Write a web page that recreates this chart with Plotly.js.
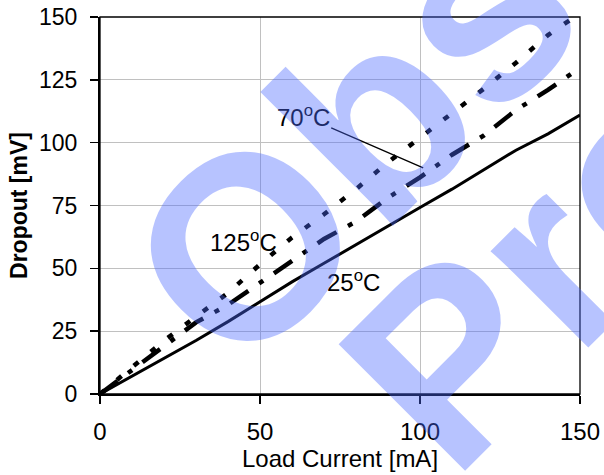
<!DOCTYPE html>
<html>
<head>
<meta charset="utf-8">
<script src="https://cdn.plot.ly/plotly-3.0.1.min.js"></script>
<style>
html,body{margin:0;padding:0;background:#fff;}
#chart{width:604px;height:475px;}
</style>
</head>
<body>
<div id="chart"></div>
<script>
// Load current [mA]
const loadCurrent = [0, 10, 20, 30, 40, 50, 60, 70, 80, 90, 100, 110, 120, 130, 140, 150];
// Dropout [mV] per temperature
const dropout25C  = [0, 7.0, 14.2, 21.3, 28.8, 36.8, 44.6, 52.0, 59.5, 67.0, 74.2, 81.5, 89.3, 97.0, 103.5, 111.0];
const dropout70C  = [0, 9.5, 19.0, 28.5, 35.5, 44.3, 52.7, 61.7, 68.6, 78.1, 86.2, 95.2, 102.9, 113.0, 121.0, 129.8];
const dropout125C = [0, 10.8, 21.2, 30.8, 40.2, 51.6, 62.3, 71.5, 81.5, 92.2, 101.8, 111.8, 121.5, 131.8, 142.8, 151.5];
const xTickVals = [0, 50, 100, 150];
const yTickVals = [0, 25, 50, 75, 100, 125, 150];
const seriesLabels = ['25<sup>o</sup>C', '70<sup>o</sup>C', '125<sup>o</sup>C'];
const watermarkLines = ['Obsolete', 'Product'];

const FONT = 'Liberation Sans, Arial, Helvetica, sans-serif';

const traces = [
  {x: loadCurrent, y: dropout25C, mode: 'lines', name: '25C',
   line: {color: '#000', width: 3}},
  {x: loadCurrent, y: dropout70C, mode: 'lines', name: '70C',
   line: {color: '#000', width: 4.5, dash: '22px,13px,5px,13px'}},
  {x: loadCurrent, y: dropout125C, mode: 'lines', name: '125C',
   line: {color: '#000', width: 4.5, dash: '6px,16px'}}
];

const wmColor = 'rgba(76,106,255,0.4)';

const layout = {
  width: 604, height: 475,
  margin: {l: 100, r: 24, t: 17, b: 81},
  paper_bgcolor: '#fff', plot_bgcolor: '#fff',
  showlegend: false,
  font: {family: FONT, color: '#000'},
  xaxis: {
    range: [0, 150], tickvals: xTickVals, ticks: 'outside', ticklen: 8, tickwidth: 1.5, tickcolor: '#000',
    showline: true, linewidth: 2, linecolor: '#000', showgrid: true, gridcolor: '#c0c0c0', gridwidth: 1,
    zeroline: false, tickfont: {size: 24, family: FONT}, ticklabelstandoff: 7,
    title: {text: 'Load Current [mA]', font: {size: 24, family: FONT}, standoff: 4}
  },
  yaxis: {
    range: [0, 150], tickvals: yTickVals, ticks: 'outside', ticklen: 8, tickwidth: 1.5, tickcolor: '#000',
    showline: true, linewidth: 2, linecolor: '#000', showgrid: true, gridcolor: '#c0c0c0', gridwidth: 1,
    zeroline: false, tickfont: {size: 23, family: FONT}, ticklabelstandoff: 8,
    title: {text: 'Dropout [mV]', font: {size: 23, family: FONT, weight: 'bold'}, standoff: 5}
  },
  xaxis2: {
    overlaying: 'x', anchor: 'y', side: 'bottom', range: [0, 150], dtick: 25, tick0: 0,
    ticks: 'inside', ticklen: 7, tickwidth: 1.5, tickcolor: '#000',
    showticklabels: false, showgrid: false, showline: false, zeroline: false
  },
  yaxis2: {
    overlaying: 'y', anchor: 'x', side: 'left', range: [0, 150], dtick: 12.5, tick0: 0,
    ticks: 'inside', ticklen: 7, tickwidth: 1.5, tickcolor: '#000',
    showticklabels: false, showgrid: false, showline: false, zeroline: false
  },
  shapes: [
    {type: 'rect', xref: 'paper', yref: 'paper', x0: 0, x1: 1, y0: 0, y1: 1,
     line: {color: '#000', width: 1.3}, layer: 'above'}
  ],
  annotations: [
    {xref: 'x', yref: 'y', x: 79.3, y: 45, text: seriesLabels[0], showarrow: false,
     font: {size: 24, family: FONT, color: '#000'}},
    {xref: 'x', yref: 'y', x: 101, y: 90, text: seriesLabels[1], showarrow: true,
     arrowhead: 0, arrowwidth: 1.3, arrowcolor: '#000', ax: -120, ay: -52,
     font: {size: 24, family: FONT, color: '#000'}},
    {xref: 'x', yref: 'y', x: 44.9, y: 60.9, text: seriesLabels[2], showarrow: false,
     font: {size: 24, family: FONT, color: '#000'}},
    {xref: 'paper', yref: 'paper', x: 0.974, y: 1.247, text: watermarkLines[0], showarrow: false,
     textangle: -45, xanchor: 'center', yanchor: 'middle',
     font: {size: 260, family: FONT, color: wmColor, weight: 'bold'}},
    {xref: 'paper', yref: 'paper', x: 1.326, y: 0.855, text: watermarkLines[1], showarrow: false,
     textangle: -45, xanchor: 'center', yanchor: 'middle',
     font: {size: 260, family: FONT, color: wmColor, weight: 'bold'}}
  ]
};

Plotly.newPlot('chart', traces, layout, {displayModeBar: false, staticPlot: true});
</script>
</body>
</html>
